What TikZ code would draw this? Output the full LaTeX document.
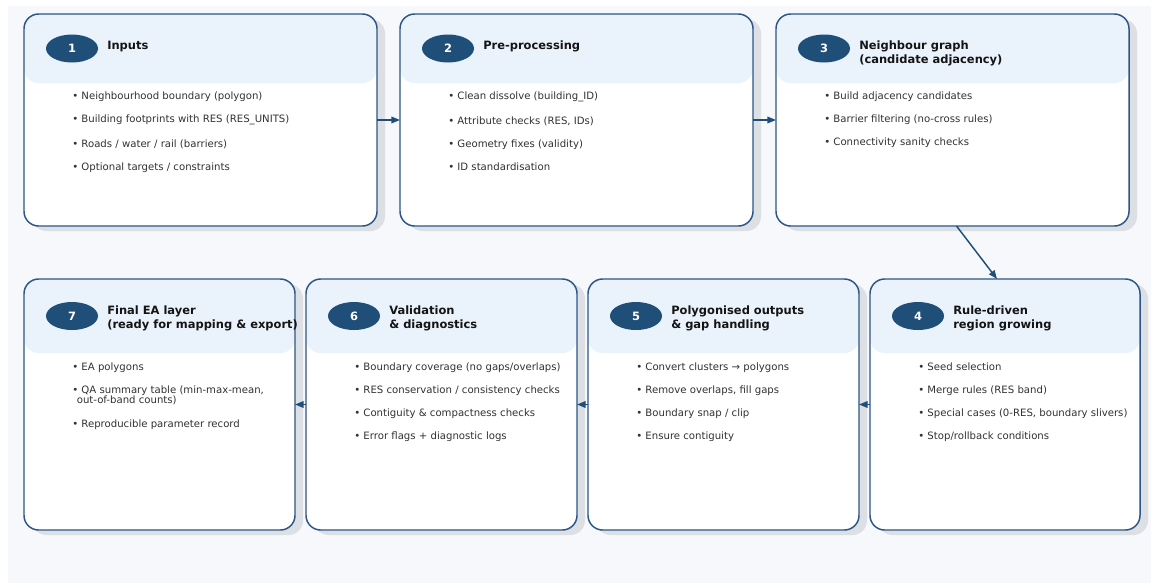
\documentclass[tikz,border=0pt]{standalone}
\usepackage{fontspec}
\setmainfont{DejaVu Sans}
\usetikzlibrary{arrows.meta, positioning, shapes.geometric, calc}
\definecolor{PageBg}{RGB}{246,248,252}
\definecolor{HeadBlue}{RGB}{234,242,251}
\definecolor{BadgeBlue}{RGB}{31,78,121}
\definecolor{EdgeBlue}{RGB}{44,86,133}
\definecolor{ShadowGrey}{RGB}{220,223,228}
\definecolor{TitleInk}{RGB}{20,20,20}
\definecolor{TextInk}{RGB}{50,50,50}

\tikzset{
  stagebox/.style={rectangle, rounded corners=11pt, fill=white, inner sep=0pt, outer sep=0pt},
  badge/.style={ellipse, fill=BadgeBlue, minimum width=39pt, minimum height=21pt, inner sep=0pt,
    text=white, font=\bfseries\fontsize{8.6}{10}\selectfont},
  stagetitle/.style={anchor=north west, inner sep=0pt, align=left, text=TitleInk,
    font=\bfseries\fontsize{8.6}{10.5}\selectfont},
  bullets/.style={anchor=north west, inner sep=0pt, align=left, text=TextInk,
    font=\fontsize{7.6}{7.5}\selectfont},
  flow/.style={-{Triangle[length=6.5pt,width=5pt]}, draw=BadgeBlue, line width=1.1pt}
}

\begin{document}
\begin{tikzpicture}[x=0.75pt, y=-0.75pt]
  \useasboundingbox (0,0) rectangle (1151,583);
  \fill[PageBg] (8,6) rectangle (1151,583);

  % stage frames: shadow, box, header band, border, badge, title
  \foreach \n/\x/\y/\w/\h/\hh/\t in {
    1/24/14/353/212/69/{Inputs},
    2/400/14/353/212/69/{Pre-processing},
    3/776/14/353/212/69/{Neighbour graph\\(candidate adjacency)},
    4/870/279/270/251/74/{Rule-driven\\region growing},
    5/588/279/271/251/74/{Polygonised outputs\\\& gap handling},
    6/306/279/271/251/74/{Validation\\\& diagnostics},
    7/24/279/271/251/74/{Final EA layer\\(ready for mapping \& export)}} {
    \fill[ShadowGrey, rounded corners=11pt] ({\x+8},{\y+5}) rectangle ++(\w,\h);
    \node[stagebox, anchor=north west, minimum width=\w*0.75pt, minimum height=\h*0.75pt] (s\n) at (\x,\y) {};
    \fill[HeadBlue, rounded corners=11pt] (s\n.north west) rectangle ++(\w,\hh);
    \draw[EdgeBlue, line width=1.1pt, rounded corners=11pt] (s\n.north west) rectangle (s\n.south east);
    \node[badge] (b\n) at ($(s\n.north west)+(48,{\hh/2})$) {\n};
    \node[stagetitle] (t\n) at ($(s\n.north west)+(83,27)$) {\rule{0pt}{6.3pt}\t};
  }

  % bullet lists
  \node[bullets] (l1) at ($(s1.north west)+(48,78)$) {\rule{0pt}{5.6pt}• Neighbourhood boundary (polygon)\\[9.75pt]
    • Building footprints with RES (RES\_UNITS)\\[9.75pt]
    • Roads / water / rail (barriers)\\[9.75pt]
    • Optional targets / constraints};
  \node[bullets] (l2) at ($(s2.north west)+(48,78)$) {\rule{0pt}{5.6pt}• Clean dissolve (building\_ID)\\[9.75pt]
    • Attribute checks (RES, IDs)\\[9.75pt]
    • Geometry fixes (validity)\\[9.75pt]
    • ID standardisation};
  \node[bullets] (l3) at ($(s3.north west)+(48,78)$) {\rule{0pt}{5.6pt}• Build adjacency candidates\\[9.75pt]
    • Barrier filtering (no-cross rules)\\[9.75pt]
    • Connectivity sanity checks};
  \node[bullets] (l4) at ($(s4.north west)+(48,84)$) {\rule{0pt}{5.6pt}• Seed selection\\[9.75pt]
    • Merge rules (RES band)\\[9.75pt]
    • Special cases (0-RES, boundary slivers)\\[9.75pt]
    • Stop/rollback conditions};
  \node[bullets] (l5) at ($(s5.north west)+(48,84)$) {\rule{0pt}{5.6pt}• Convert clusters → polygons\\[9.75pt]
    • Remove overlaps, fill gaps\\[9.75pt]
    • Boundary snap / clip\\[9.75pt]
    • Ensure contiguity};
  \node[bullets] (l6) at ($(s6.north west)+(48,84)$) {\rule{0pt}{5.6pt}• Boundary coverage (no gaps/overlaps)\\[9.75pt]
    • RES conservation / consistency checks\\[9.75pt]
    • Contiguity \& compactness checks\\[9.75pt]
    • Error flags + diagnostic logs};
  \node[bullets] (l7) at ($(s7.north west)+(48,84)$) {\rule{0pt}{5.6pt}• EA polygons\\[9.75pt]
    • QA summary table (min-max-mean,\\
    \hspace*{0.45em}out-of-band counts)\\[10.5pt]
    • Reproducible parameter record};

  % flow between stages
  \draw[flow] (s1.east) -- (s2.west);
  \draw[flow] (s2.east) -- (s3.west);
  \draw[flow] ($(s3.south)+(4,0)$) -- ($(s4.north)+(-8,0)$);
  \draw[flow] (s4.west) -- (s5.east);
  \draw[flow] (s5.west) -- (s6.east);
  \draw[flow] (s6.west) -- (s7.east);
\end{tikzpicture}
\end{document}
